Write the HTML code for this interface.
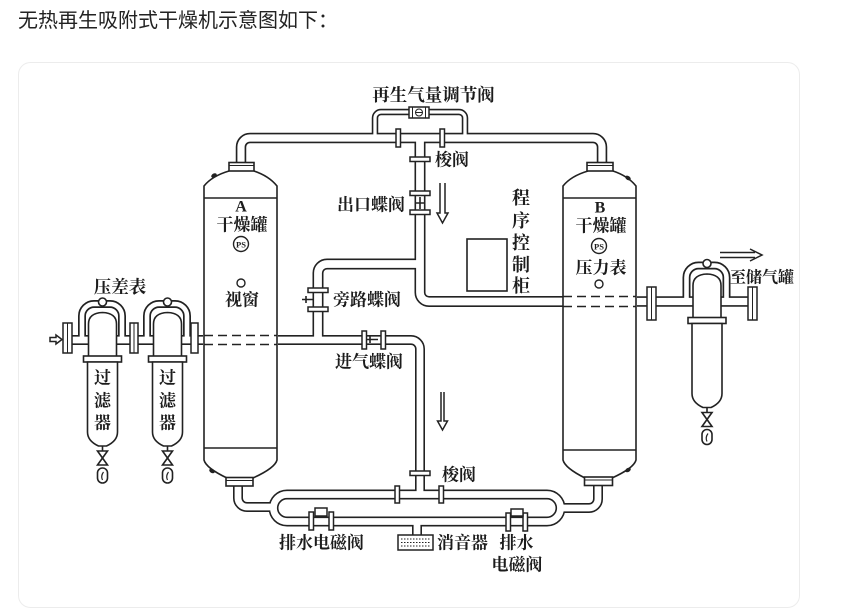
<!DOCTYPE html>
<html><head><meta charset="utf-8"><style>
html,body{margin:0;padding:0;background:#fff;}
svg{display:block;}
.t{font-family:"Liberation Serif","Noto Serif CJK SC",serif;font-weight:bold;fill:#1c1c1c;text-anchor:middle;dominant-baseline:central;}
</style></head><body>
<svg width="850" height="612" viewBox="0 0 850 612" xmlns="http://www.w3.org/2000/svg">
<defs>
<g id="filt">
 <path d="M-20.5,336 V316 A12,12 0 0 1 -8.5,304 H7.5 A12,12 0 0 1 19.5,316 V336" fill="none" stroke="#222" stroke-width="8"/>
 <path d="M-20.5,337 V316 A12,12 0 0 1 -8.5,304 H7.5 A12,12 0 0 1 19.5,316 V337" fill="none" stroke="#fff" stroke-width="4.6"/>
 <circle cx="0" cy="302" r="4" fill="#fff" stroke="#222" stroke-width="1.6"/>
 <path d="M-14,357 V324 Q-14,313 0,312.5 Q14,313 14,324 V357 Z" fill="#fff" stroke="#222" stroke-width="1.6"/>
 <rect x="-19" y="356" width="38" height="6" fill="#fff" stroke="#222" stroke-width="1.6"/>
 <path d="M-15,362 V432 Q-15,441 -4,446 H4 Q15,441 15,432 V362 Z" fill="#fff" stroke="#222" stroke-width="1.6"/>
 <line x1="0" y1="446" x2="0" y2="451" stroke="#222" stroke-width="1.6"/>
 <path d="M-5,451 H5 L-5,465 H5 Z" fill="#fff" stroke="#222" stroke-width="1.6"/>
 <rect x="-5" y="468" width="10" height="15" rx="5" fill="#fff" stroke="#222" stroke-width="1.6"/>
 <path d="M1,472 Q-2,476 0,480" fill="none" stroke="#222" stroke-width="1.2"/>
</g>
</defs>
<rect width="850" height="612" fill="#fff"/>
<text x="18" y="27" font-family="Liberation Sans, Noto Sans CJK SC, sans-serif" font-size="20" fill="#222">无热再生吸附式干燥机示意图如下：</text>
<rect x="18.5" y="62.5" width="781" height="545" rx="12" fill="#fff" stroke="#ececec" stroke-width="1"/>

<!-- pipes black -->
<g fill="none" stroke="#222" stroke-linejoin="round">
 <path d="M241,163 V147 A9,9 0 0 1 250,138 H593 A9,9 0 0 1 602,147 V163" stroke-width="10.5"/>
 <path d="M375,138 V118 A6,6 0 0 1 381,112 H459 A6,6 0 0 1 465,118 V138" stroke-width="6.5"/>
 <path d="M420,138 V292.5 A9,9 0 0 0 429,301.5 H563" stroke-width="11"/>
 <path d="M637,301.5 H700" stroke-width="10.5"/>
 <path d="M715,301.5 H752" stroke-width="10.5"/>
 <path d="M420,264 H327 A9,9 0 0 0 318,273 V340" stroke-width="11"/>
 <path d="M66,340 H203" stroke-width="10"/>
 <path d="M278,340 H411 A9,9 0 0 1 420,349 V495" stroke-width="10"/>
 <path d="M287,494.5 H547 A13.5,13.5 0 0 1 547,521.5 H287 A13.5,13.5 0 0 1 287,494.5 Z" stroke-width="10"/>
 <path d="M238,486 V498 A9,9 0 0 0 247,507 H274" stroke-width="10"/>
 <path d="M598,486 V499 A9,9 0 0 1 589,508 H560" stroke-width="10"/>
 <path d="M417,522 V536" stroke-width="10"/>
</g>
<!-- pipes white -->
<g fill="none" stroke="#fff" stroke-linejoin="round">
 <path d="M241,163 V147 A9,9 0 0 1 250,138 H593 A9,9 0 0 1 602,147 V163" stroke-width="7.2"/>
 <path d="M375,138 V118 A6,6 0 0 1 381,112 H459 A6,6 0 0 1 465,118 V138" stroke-width="3.3"/>
 <path d="M420,138 V292.5 A9,9 0 0 0 429,301.5 H563" stroke-width="7.8"/>
 <path d="M637,301.5 H700" stroke-width="7.2"/>
 <path d="M715,301.5 H752" stroke-width="7.2"/>
 <path d="M420,264 H327 A9,9 0 0 0 318,273 V340" stroke-width="7.8"/>
 <path d="M66,340 H203" stroke-width="6.8"/>
 <path d="M278,340 H411 A9,9 0 0 1 420,349 V495" stroke-width="6.8"/>
 <path d="M287,494.5 H547 A13.5,13.5 0 0 1 547,521.5 H287 A13.5,13.5 0 0 1 287,494.5 Z" stroke-width="6.8"/>
 <path d="M238,486 V498 A9,9 0 0 0 247,507 H274" stroke-width="6.8"/>
 <path d="M598,486 V499 A9,9 0 0 1 589,508 H560" stroke-width="6.8"/>
 <path d="M417,522 V536" stroke-width="6.8"/>
</g>

<!-- dashed pipe sections inside tanks -->
<g stroke="#222" stroke-width="1.6" stroke-dasharray="9 5" fill="none">
 <path d="M204,335.5 H277 M204,344.5 H277"/>
 <path d="M563,296.5 H636 M563,306.5 H636"/>
</g>

<!-- tanks -->
<g fill="none" stroke="#222" stroke-width="1.6">
 <path d="M229,171 Q212,176 204,186 V460 Q206,468 227,478 M253,478 Q275,468 277,460 V186 Q269,176 254,171"/>
 <path d="M204,198 H277 M204,448 H277"/>
 <path d="M588,171 Q571,176 563,186 V460 Q565,468 585,478 M612,478 Q634,468 636,460 V186 Q628,176 613,171"/>
 <path d="M563,198 H636 M563,450 H636"/>
</g>
<g fill="#222">
 <ellipse cx="214" cy="175.5" rx="3" ry="2" transform="rotate(-30 214 175.5)"/>
 <ellipse cx="628" cy="178" rx="3" ry="2" transform="rotate(35 628 178)"/>
 <ellipse cx="212" cy="471" rx="3" ry="2" transform="rotate(30 212 471)"/>
 <ellipse cx="628" cy="470" rx="3" ry="2" transform="rotate(-30 628 470)"/>
</g>
<g fill="#fff" stroke="#222" stroke-width="1.6">
 <rect x="229" y="162.5" width="25" height="8.5"/>
 <rect x="587" y="162.5" width="26" height="8.5"/>
 <rect x="226" y="477.5" width="27" height="8.5"/>
 <rect x="584.5" y="477" width="28" height="8.5"/>
</g>
<g stroke="#222" stroke-width="1" fill="none">
 <path d="M229,165.5 H254 M587,165.5 H613 M226,480.5 H253 M584.5,480 H612.5"/>
</g>

<!-- filters -->
<use href="#filt" transform="translate(102.5,0)"/>
<use href="#filt" transform="translate(167.5,0)"/>
<use href="#filt" transform="translate(707,-38.5)"/>

<!-- flanges -->
<g fill="#fff" stroke="#222" stroke-width="1.5">
 <rect x="396" y="129" width="4.5" height="18"/>
 <rect x="440" y="129" width="4.5" height="18"/>
 <rect x="410" y="157" width="20" height="4.5"/>
 <rect x="410" y="191" width="20" height="4.5"/>
 <rect x="410" y="210" width="20" height="4.5"/>
 <rect x="308" y="288" width="20" height="4.5"/>
 <rect x="308" y="307" width="20" height="4.5"/>
 <rect x="362" y="331" width="4.5" height="18"/>
 <rect x="381" y="331" width="4.5" height="18"/>
 <rect x="410" y="471" width="20" height="4.5"/>
 <rect x="395" y="486" width="4.5" height="17"/>
 <rect x="439" y="486" width="4.5" height="17"/>
 <rect x="309" y="512" width="4.5" height="18"/>
 <rect x="329" y="512" width="4.5" height="18"/>
 <rect x="315" y="508" width="12" height="8"/>
 <rect x="506" y="513" width="4.5" height="18"/>
 <rect x="523" y="513" width="4.5" height="18"/>
 <rect x="511" y="509" width="12" height="7"/>
 <rect x="63" y="323" width="9" height="30"/>
 <rect x="130" y="323" width="8" height="30"/>
 <rect x="191" y="323" width="7" height="30"/>
 <rect x="647" y="287" width="9" height="33"/>
 <rect x="748" y="287" width="9" height="33"/>
 <rect x="398" y="535" width="35" height="15"/>
 <rect x="409" y="107" width="20" height="11"/>
</g>
<g stroke="#222" stroke-width="1" fill="none">
 <path d="M67.5,323 V353 M651.5,287 V320 M752.5,287 V320 M134,323 V353"/>
 <path d="M412.5,107 V118 M425.5,107 V118"/>
 <circle cx="419" cy="112.5" r="3.5"/>
 <path d="M415.5,112.5 H422.5"/>
 <path d="M401,539 H430 M401,542.5 H430 M401,546 H430" stroke-dasharray="1.5 1.5"/>
</g>
<!-- valve handles -->
<g stroke="#222" stroke-width="1.6" fill="none">
 <path d="M420,197 V209 M416,203 H424"/>
 <path d="M302,299.5 H314 M306,296 V303"/>
 <path d="M366,339.5 H378 M370,336 V343"/>
</g>

<!-- arrows -->
<g stroke="#222" stroke-width="1.5" fill="none" stroke-linejoin="miter">
 <path d="M440,183 V213 H437 L442.5,223 L448,213 H445 V183"/>
 <path d="M441,392 V421 H437.5 L442.5,430 L447.5,421 H444 V392"/>
 <path d="M50,337.5 H56 V335 L62,339.5 L56,344 V341.5 H50 Z"/>
 <path d="M720,252.5 H755 M720,257.5 H755 M750,249 L762,255 L750,261"/>
</g>

<!-- control box -->
<rect x="467" y="239" width="40" height="52" fill="none" stroke="#222" stroke-width="1.6"/>

<!-- tank symbols -->
<g fill="#fff" stroke="#222" stroke-width="1.4">
 <circle cx="241" cy="244" r="7.5"/>
 <circle cx="599" cy="246" r="7.5"/>
 <circle cx="241" cy="283" r="4"/>
 <circle cx="599" cy="284" r="4"/>
</g>
<text class="t" x="241" y="244.5" font-size="8.5">PS</text>
<text class="t" x="599" y="246.5" font-size="8.5">PS</text>

<!-- labels -->
<text class="t" x="433.5" y="95" font-size="17.5">再生气量调节阀</text>
<text class="t" x="452" y="160" font-size="17">梭阀</text>
<text class="t" x="371" y="205" font-size="17">出口蝶阀</text>
<text class="t" x="521" y="198" font-size="18">程</text>
<text class="t" x="521" y="221" font-size="18">序</text>
<text class="t" x="521" y="243" font-size="18">控</text>
<text class="t" x="521" y="265" font-size="18">制</text>
<text class="t" x="521" y="286" font-size="18">柜</text>
<text class="t" x="241" y="207" font-size="16" font-weight="normal">A</text>
<text class="t" x="242" y="225" font-size="17">干燥罐</text>
<text class="t" x="242" y="300" font-size="17">视窗</text>
<text class="t" x="600" y="208" font-size="16" font-weight="normal">B</text>
<text class="t" x="601" y="226" font-size="17">干燥罐</text>
<text class="t" x="601" y="268" font-size="17">压力表</text>
<text class="t" x="367" y="300" font-size="17">旁路蝶阀</text>
<text class="t" x="369" y="362" font-size="17">进气蝶阀</text>
<text class="t" x="120" y="287" font-size="17.5">压差表</text>
<text class="t" x="102.5" y="378" font-size="17">过</text>
<text class="t" x="102.5" y="401" font-size="17">滤</text>
<text class="t" x="102.5" y="423" font-size="17">器</text>
<text class="t" x="167.5" y="378" font-size="17">过</text>
<text class="t" x="167.5" y="401" font-size="17">滤</text>
<text class="t" x="167.5" y="423" font-size="17">器</text>
<text class="t" x="762" y="278" font-size="16">至储气罐</text>
<text class="t" x="459" y="475" font-size="17">梭阀</text>
<text class="t" x="321.5" y="543" font-size="17">排水电磁阀</text>
<text class="t" x="462.5" y="543" font-size="17">消音器</text>
<text class="t" x="516.5" y="543" font-size="17">排水</text>
<text class="t" x="517" y="565" font-size="17">电磁阀</text>
</svg>
</body></html>
